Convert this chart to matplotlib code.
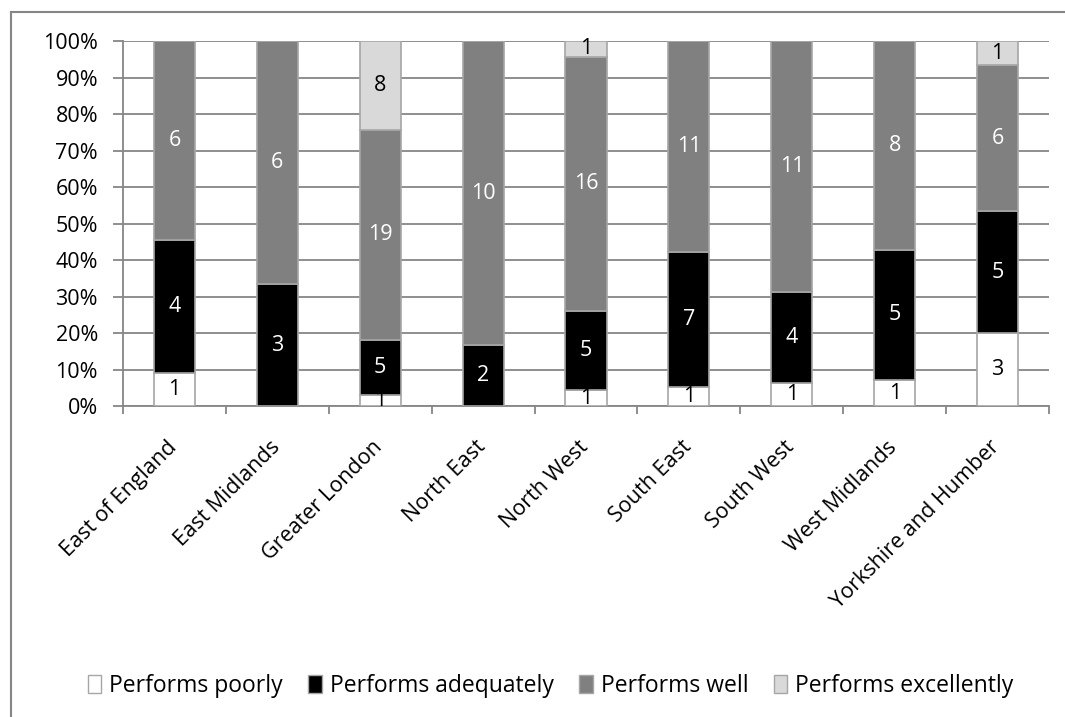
import matplotlib
matplotlib.use("Agg")
import matplotlib.pyplot as plt
import matplotlib.transforms as mtransforms
from matplotlib.patches import Patch
from matplotlib.lines import Line2D
import numpy as np

plt.rcParams['font.family'] = ['Open Sans', 'DejaVu Sans']

regions = ["East of England", "East Midlands", "Greater London", "North East",
           "North West", "South East", "South West", "West Midlands",
           "Yorkshire and Humber"]
poorly = [1, 0, 1, 0, 1, 1, 1, 1, 3]
adequately = [4, 3, 5, 2, 5, 7, 4, 5, 5]
well = [6, 6, 19, 10, 16, 11, 11, 8, 6]
excellently = [0, 0, 8, 0, 1, 0, 0, 0, 1]
series_names = ["Performs poorly", "Performs adequately", "Performs well",
                "Performs excellently"]
y_ticks = [0, 10, 20, 30, 40, 50, 60, 70, 80, 90, 100]

fill_colors = ["#ffffff", "#000000", "#808080", "#d9d9d9"]
text_colors = ["#000000", "#ffffff", "#ffffff", "#000000"]
edge = "#a6a6a6"
grid_c = "#868686"
fs = 15.5

fig = plt.figure(figsize=(10.65, 7.17), dpi=100)
ax = fig.add_axes([0.1155, 0.4337, 0.8695, 0.5091])

counts = np.array([poorly, adequately, well, excellently], dtype=float)
totals = counts.sum(axis=0)
shares = counts / totals * 100
x = np.arange(len(regions))
bottom = np.zeros(len(regions))
for k in range(4):
    ax.bar(x, shares[k], width=0.4, bottom=bottom, color=fill_colors[k],
           edgecolor=edge, linewidth=1.2, zorder=3)
    for i in range(len(regions)):
        if counts[k, i] > 0:
            ax.text(x[i], bottom[i] + shares[k, i] / 2, f"{int(counts[k, i])}",
                    ha="center", va="center", color=text_colors[k],
                    fontsize=fs, zorder=4)
    bottom += shares[k]

ax.set_xlim(-0.5, len(regions) - 0.5)
ax.set_ylim(0, 100)
ax.set_yticks(y_ticks)
ax.set_yticklabels([f"{v}%" for v in y_ticks], fontsize=fs)
ax.yaxis.grid(True, color=grid_c, linewidth=1.3, zorder=0)
ax.set_axisbelow(True)

ax.set_xticks(x)
ax.set_xticklabels(regions, rotation=45, ha="right", rotation_mode="anchor",
                   fontsize=fs)
ax.set_xticks(np.arange(len(regions) + 1) - 0.5, minor=True)
ax.tick_params(axis="x", which="major", length=0, pad=22)
ax.tick_params(axis="x", which="minor", length=6, color=grid_c, width=1.3)
ax.tick_params(axis="y", length=7, color=grid_c, width=1.3, pad=11)
shift = mtransforms.ScaledTranslation(-8 / 100, 0, fig.dpi_scale_trans)
for lbl in ax.get_xticklabels():
    lbl.set_transform(lbl.get_transform() + shift)

for s in ["top", "right"]:
    ax.spines[s].set_visible(False)
for s in ["left", "bottom"]:
    ax.spines[s].set_color(grid_c)
    ax.spines[s].set_linewidth(1.3)

handles = [Patch(facecolor=fill_colors[k], edgecolor=edge, linewidth=1)
           for k in range(4)]
fig.legend(handles, series_names, loc="center", bbox_to_anchor=(0.517, 1 - 686 / 717),
           ncol=4, frameon=False, fontsize=16.5, handlelength=0.6, handleheight=0.8,
           handletextpad=0.35, columnspacing=1.1)

# chart frame
fig.add_artist(Line2D([11 / 1065, 1], [1 - 12 / 717, 1 - 12 / 717],
                      transform=fig.transFigure, color=grid_c, linewidth=1.5))
fig.add_artist(Line2D([11 / 1065, 11 / 1065], [0, 1 - 12 / 717],
                      transform=fig.transFigure, color=grid_c, linewidth=1.5))

fig.savefig("out.png", dpi=100)
